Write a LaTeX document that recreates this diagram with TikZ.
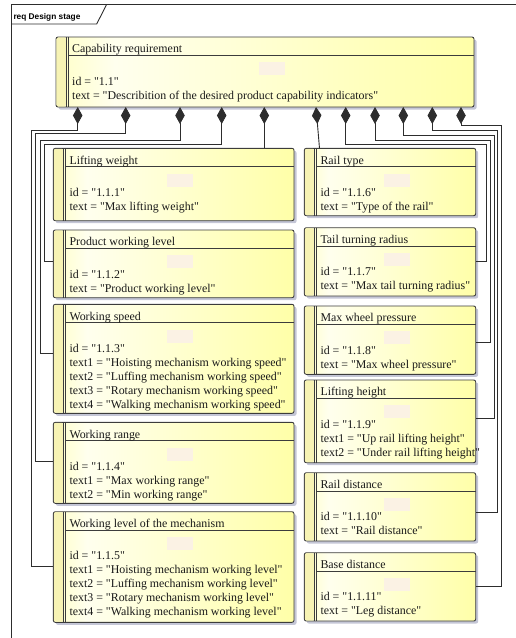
\documentclass[tikz,border=0pt]{standalone}
\usepackage{fontspec}
\newfontfamily\boxfont{Liberation Serif}
\newfontfamily\tabfont{Liberation Sans}
\usetikzlibrary{arrows.meta,shadows,calc}
\definecolor{boxc}{RGB}{60,60,60}
\definecolor{linec}{RGB}{45,45,45}
\definecolor{txtc}{RGB}{25,25,25}
\definecolor{ystripe}{RGB}{247,243,180}
\definecolor{ymid}{RGB}{255,255,200}
\definecolor{ylight}{RGB}{255,255,238}
\definecolor{ydark}{RGB}{255,255,168}
\definecolor{shadowc}{RGB}{196,198,214}
\definecolor{pinkc}{RGB}{251,242,228}
\pgfdeclarehorizontalshading{reqshade}{100bp}{color(0bp)=(ymid); color(25bp)=(ymid); color(32bp)=(ylight); color(75bp)=(ydark); color(100bp)=(ydark)}
\tikzset{
  reqbox/.style={draw=boxc, line width=0.9pt, rounded corners=2pt, shading=reqshade,
    anchor=north west, inner sep=0pt, outer sep=0pt,
    drop shadow={shadow xshift=2.5pt, shadow yshift=-2.5pt, fill=shadowc, opacity=1}},
  boxline/.style={draw=boxc, line width=0.9pt},
  txt/.style={anchor=base west, inner sep=0pt, text=txtc, font=\boxfont\fontsize{11.9}{14}\selectfont},
  comp/.style={draw=linec, line width=0.9pt, {Diamond[length=17pt,width=9.5pt]}-},
  framec/.style={draw=linec, line width=0.9pt}
}
\newcommand\ReqBox[7]{%
  \node[reqbox, minimum width=#4, minimum height=#5] (#1) at (#2,#3) {};
  \fill[ystripe, rounded corners=1.5pt] ([shift={(0.6,0.6)}]#1.north west) rectangle ([shift={(10,-0.6)}]#1.south west);
  \draw[boxline] ([xshift=10pt]#1.north west) -- ([xshift=10pt]#1.south west);
  \draw[boxline] ([xshift=12.5pt]#1.north west) -- ([xshift=12.5pt]#1.south west);
  \draw[boxline] ([shift={(12.5,18.5)}]#1.north west) -- ([yshift=-18.5pt]#1.north east);
  \fill[pinkc] ($(#1.north)+(-6.5,25.2)$) rectangle ++(26,13);
  \node[txt] at ($(#1.north west)+(16,15.8)$) {#6};
  \foreach \bl [count=\i from 0] in {#7} {\node[txt] at ($(#1.north west)+(16,{48+14*\i})$) {\bl};}
}
\begin{document}
\begin{tikzpicture}[x=1pt,y=-1pt]
\useasboundingbox (0,0) rectangle (515,638);
% frame
\draw[framec] (11,640) -- (11,4.3) -- (517,4.3);
\draw[framec] (11,24) -- (96.7,24) -- (106.7,4.3);
\node[anchor=base west, inner sep=0pt, font=\tabfont\bfseries\fontsize{8.3}{10}\selectfont] (tab) at (13.3,19.6) {req Design stage};
% boxes
\ReqBox{cap}{56}{37}{418}{70}{Capability requirement}{id = "1.1",text = "Describition of the desired product capability indicators"}
\ReqBox{lw}{53.3}{148.3}{240.7}{72.4}{Lifting weight}{id = "1.1.1",text = "Max lifting weight"}
\ReqBox{pwl}{53.3}{230}{240.7}{67.7}{Product working level}{id = "1.1.2",text = "Product working level"}
\ReqBox{ws}{53.3}{304.3}{240.7}{109}{Working speed}{id = "1.1.3",text1 = "Hoisting mechanism working speed",text2 = "Luffing mechanism working speed",text3 = "Rotary mechanism working speed",text4 = "Walking mechanism working speed"}
\ReqBox{wr}{53.3}{422.3}{240.7}{81}{Working range}{id = "1.1.4",text1 = "Max working range",text2 = "Min working range"}
\ReqBox{wl}{53.3}{511.7}{240.7}{110.6}{Working level of the mechanism}{id = "1.1.5",text1 = "Hoisting mechanism working level",text2 = "Luffing mechanism working level",text3 = "Rotary mechanism working level",text4 = "Walking mechanism working level"}
\ReqBox{rt}{304.3}{148.3}{171.4}{67.4}{Rail type}{id = "1.1.6",text = "Type of the rail"}
\ReqBox{ttr}{304.3}{227.7}{171.4}{68.3}{Tail turning radius}{id = "1.1.7",text = "Max tail turning radius"}
\ReqBox{mwp}{304.3}{306}{171.4}{68.3}{Max wheel pressure}{id = "1.1.8",text = "Max wheel pressure"}
\ReqBox{lh}{304.3}{380}{171.4}{82.7}{Lifting height}{id = "1.1.9",text1 = "Up rail lifting height",text2 = "Under rail lifting height"}
\ReqBox{rd}{304.3}{472.7}{171.4}{68.3}{Rail distance}{id = "1.1.10",text = "Rail distance"}
\ReqBox{bd}{304.3}{552.7}{171.4}{68.3}{Base distance}{id = "1.1.11",text = "Leg distance"}
% diamond anchor points
\coordinate (d1) at (cap.south -| 77.7,0);
\coordinate (d2) at (cap.south -| 125.7,0);
\coordinate (d3) at (cap.south -| 180,0);
\coordinate (d4) at (cap.south -| 221.7,0);
\coordinate (d5) at (cap.south -| 264.3,0);
\coordinate (d6) at (cap.south -| 316,0);
\coordinate (d7) at (cap.south -| 345.7,0);
\coordinate (d8) at (cap.south -| 375,0);
\coordinate (d9) at (cap.south -| 403.3,0);
\coordinate (d10) at (cap.south -| 432.3,0);
\coordinate (d11) at (cap.south -| 461,0);
% connectors
\draw[comp] (d1) |- (31.7,130.7) |- (wl.west |- 0,566);
\draw[comp] (d2) |- (35,133.8) |- (wr.west |- 0,461.7);
\draw[comp] (d3) |- (40,140.5) |- (ws.west |- 0,353.3);
\draw[comp] (d4) |- (44.3,144) |- (pwl.west |- 0,261);
\draw[comp] (d5) -- (lw.north -| 264.3,0);
\draw[comp] (d6) -- (rt.north -| 319.5,0);
\draw[comp] (d7) |- (486,144.5) |- (ttr.east |- 0,261.7);
\draw[comp] (d8) |- (490,140.5) |- (mwp.east |- 0,342.7);
\draw[comp] (d9) |- (494,135.5) |- (lh.east |- 0,418.3);
\draw[comp] (d10) |- (497.5,130.5) |- (rd.east |- 0,512.3);
\draw[comp] (d11) |- (501,125.5) |- (bd.east |- 0,586);
\end{tikzpicture}
\end{document}
